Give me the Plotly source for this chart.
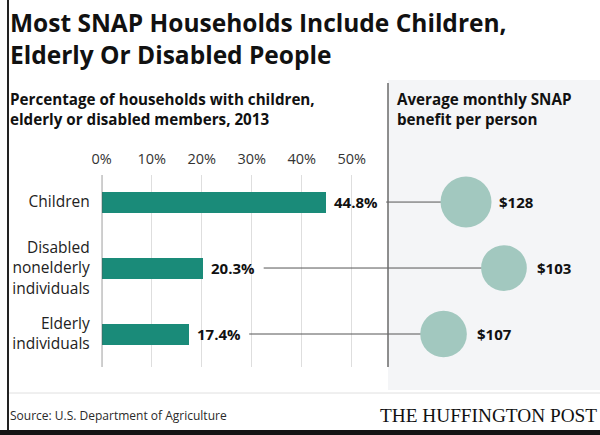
import plotly.graph_objects as go
import math

# ---------------- data ----------------
categories = ["Children", "Disabled<br>nonelderly<br>individuals", "Elderly<br>individuals"]
share_pct = [44.8, 20.3, 17.4]
benefit_usd = [128, 103, 107]
tick_values = [0, 10, 20, 30, 40, 50]
tick_labels = ["0%", "10%", "20%", "30%", "40%", "50%"]
title_lines = ["Most SNAP Households Include Children,", "Elderly Or Disabled People"]
left_sub_lines = ["Percentage of households with children,", "elderly or disabled members, 2013"]
right_sub_lines = ["Average monthly SNAP", "benefit per person"]

# ---------------- layout constants ----------------
W, H = 600, 435
X0_PX = 101.7        # pixel of the 0% line
PX_PER_UNIT = 5.0    # pixels per percentage point
PANEL_PX = 388       # left edge of the right-hand panel
bubble_frac = [0.368, 0.547, 0.262]  # horizontal placement inside panel
MAX_D = 51           # diameter of largest bubble (px)
LABEL_GAP = 12.1     # space left for value label before connector (units)

FONT = "Open Sans"
BAR_COLOR = "#1a8b79"
BUBBLE_COLOR = "#a2c8bf"
TEXT = "#111111"

x_max = (W - X0_PX) / PX_PER_UNIT
panel_left = (PANEL_PX - X0_PX) / PX_PER_UNIT
panel_width = (W - PANEL_PX) / PX_PER_UNIT
bubble_x = [panel_left + f * panel_width for f in bubble_frac]
bubble_d = [MAX_D * math.sqrt(v / max(benefit_usd)) for v in benefit_usd]


def py(px):
    return 1 - px / H


def pxx(px):
    return px / W


fig = go.Figure()

# connectors
for cat, v, bx in zip(categories, share_pct, bubble_x):
    fig.add_trace(go.Scatter(x=[v + LABEL_GAP, bx], y=[cat, cat], mode="lines",
                             line=dict(color="#555555", width=1), hoverinfo="skip",
                             showlegend=False))

fig.add_trace(go.Bar(x=share_pct, y=categories, orientation="h", width=0.318,
                     marker=dict(color=BAR_COLOR, line=dict(width=0)), showlegend=False))

fig.add_trace(go.Scatter(x=bubble_x, y=categories, mode="markers",
                         marker=dict(size=bubble_d, color=BUBBLE_COLOR, opacity=1,
                                     line=dict(width=0)),
                         cliponaxis=False, showlegend=False))

annotations = []
for cat, v in zip(categories, share_pct):
    annotations.append(dict(x=v, y=cat, xref="x", yref="y", text=f"<b>{v:.1f}%</b>",
                            xanchor="left", xshift=6, showarrow=False,
                            font=dict(family=FONT, size=15, color=TEXT)))
for cat, v, bx in zip(categories, benefit_usd, bubble_x):
    annotations.append(dict(x=bx, y=cat, xref="x", yref="y", text=f"<b>${v}</b>",
                            xanchor="left", xshift=31, showarrow=False,
                            font=dict(family=FONT, size=15, color=TEXT)))


def text_line(txt, x_px, y_px, size, bold=True, family=FONT, anchor="left", color=TEXT):
    return dict(x=pxx(x_px), y=py(y_px), xref="paper", yref="paper", xanchor=anchor,
                yanchor="middle", align=anchor, showarrow=False,
                text=f"<b>{txt}</b>" if bold else txt,
                font=dict(family=family, size=size, color=color))


annotations += [
    text_line(title_lines[0], 8, 23, 24.5),
    text_line(title_lines[1], 8, 54.5, 24.5),
    text_line(left_sub_lines[0], 8, 99.5, 15.2),
    text_line(left_sub_lines[1], 8, 119.5, 15.2),
    text_line(right_sub_lines[0], 395, 99.5, 15.2),
    text_line(right_sub_lines[1], 395, 119.5, 15.2),
    text_line("Source: U.S. Department of Agriculture", 8, 415, 12, bold=False,
              color="#2a2a2a"),
    text_line("THE HUFFINGTON POST", 599, 415, 19.3, bold=False,
              family="Liberation Serif", anchor="right"),
]

shapes = [
    # right panel background
    dict(type="rect", xref="paper", yref="paper", x0=pxx(PANEL_PX), x1=1, y0=py(390), y1=py(80),
         fillcolor="#f4f5f7", line=dict(width=0), layer="below"),
    # panel divider
    dict(type="line", xref="paper", yref="paper", x0=pxx(PANEL_PX), x1=pxx(PANEL_PX),
         y0=py(367), y1=py(83), line=dict(color="#6a6a6a", width=1.5)),
    # zero line
    dict(type="line", xref="x", yref="y domain", x0=0, x1=0, y0=0, y1=1,
         line=dict(color="#555555", width=1.2)),
    # footer separator
    dict(type="line", xref="paper", yref="paper", x0=pxx(9), x1=1, y0=py(393), y1=py(393),
         line=dict(color="#e0e0e0", width=1)),
    # left border
    dict(type="line", xref="paper", yref="paper", x0=pxx(8), x1=pxx(8), y0=0, y1=1,
         line=dict(color="#222222", width=2)),
    # bottom band
    dict(type="rect", xref="paper", yref="paper", x0=0, x1=1, y0=0, y1=py(430),
         fillcolor="#141414", line=dict(width=0)),
]

fig.update_layout(
    width=W, height=H, margin=dict(l=0, r=0, t=0, b=0, autoexpand=False),
    paper_bgcolor="white", plot_bgcolor="rgba(0,0,0,0)",
    showlegend=False, bargap=0,
    annotations=annotations, shapes=shapes,
    xaxis=dict(domain=[X0_PX / W, 1], range=[0, x_max], side="top",
               tickvals=tick_values, ticktext=tick_labels, showgrid=True,
               gridcolor="#dedede", gridwidth=1, zeroline=False, showline=False,
               ticks="", ticklabelstandoff=7, automargin=False,
               tickfont=dict(family=FONT, size=14.5, color="#333333"),
               fixedrange=True),
    yaxis=dict(domain=[py(367), py(175)], range=[2.5, -0.41], type="category",
               categoryorder="array", categoryarray=categories,
               showgrid=False, zeroline=False, showline=False, ticks="",
               ticklabelstandoff=11, automargin=False,
               tickfont=dict(family=FONT, size=15.5, color="#222222")),
)

fig.write_html("out.html", config={"displayModeBar": False, "staticPlot": True},
               post_script="document.body.style.margin='0px';")
